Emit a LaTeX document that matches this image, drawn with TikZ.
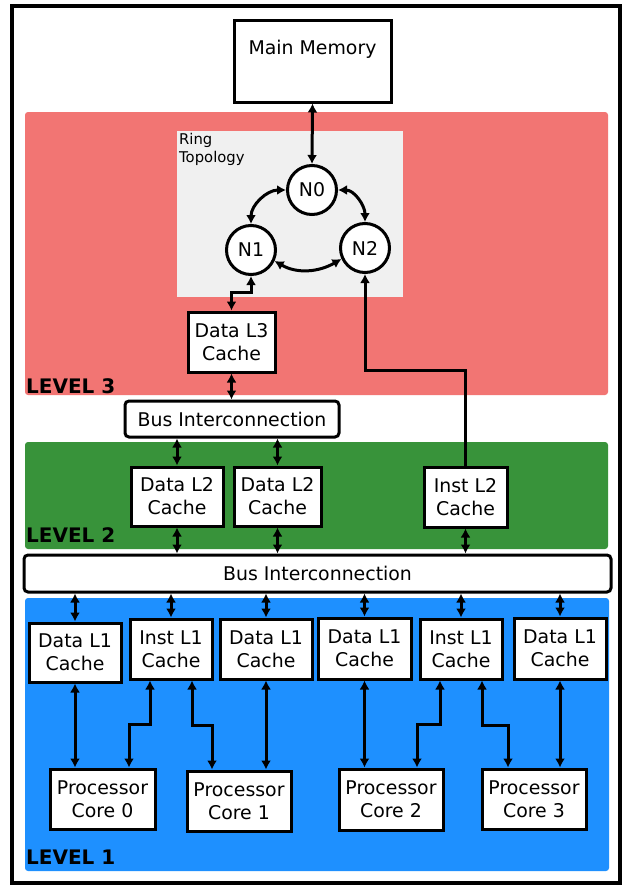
\documentclass[tikz,border=0pt]{standalone}
\usepackage{fontspec}
\setmainfont{DejaVu Sans}
\usetikzlibrary{arrows.meta,calc}
\definecolor{lvthree}{RGB}{242,117,115}
\definecolor{lvtwo}{RGB}{56,147,58}
\definecolor{lvone}{RGB}{30,144,255}
\definecolor{ringbg}{RGB}{240,240,240}
\begin{document}
\begin{tikzpicture}[x=1pt,y=-1pt,
  box/.style={draw, line width=3pt, fill=white, inner sep=0pt, align=center,
    font=\fontsize{18.9}{23}\selectfont},
  busbox/.style={box, rounded corners=4pt},
  ringnode/.style={draw, circle, line width=3pt, fill=white, inner sep=0pt,
    minimum size=49pt, font=\fontsize{18.9}{23}\selectfont},
  levellbl/.style={anchor=base west, inner sep=0pt, font=\bfseries\fontsize{20}{24}\selectfont},
  dbl/.style={{Latex[length=9pt,width=10pt]}-{Latex[length=9pt,width=10pt]}, line width=3pt},
  sgl/.style={-{Latex[length=9pt,width=10pt]}, line width=3pt}
]
\useasboundingbox (0,0) rectangle (624,886);
\fill[white] (0,0) rectangle (624,886);
\draw[line width=3.2pt] (12,6) rectangle (620,883);

% level regions
\fill[lvthree, rounded corners=3pt] (25,112) rectangle (608,395);
\fill[lvtwo, rounded corners=3pt] (25,442) rectangle (608,549);
\fill[lvone, rounded corners=3pt] (25,598) rectangle (609,871);
\fill[ringbg] (177,131) rectangle (403,297);

\node[anchor=north west, align=left, inner sep=0pt,
  font=\fontsize{14.8}{18}\selectfont] (ringlbl) at (179,133) {Ring\\Topology};

\node[levellbl] (lv3) at (26,393) {LEVEL 3};
\node[levellbl] (lv2) at (26,542) {LEVEL 2};
\node[levellbl] (lv1) at (26,864) {LEVEL 1};

% main memory
\node[box, minimum width=157pt, minimum height=82pt, text height=14pt, text depth=28pt] (mm) at (312.5,61) {Main Memory};

% ring nodes
\node[ringnode] (N0) at (312,190) {N0};
\node[ringnode] (N1) at (251,250) {N1};
\node[ringnode] (N2) at (365,248) {N2};

% level 3
\node[box, minimum width=87pt, minimum height=60pt] (L3) at (231.5,342) {Data L3\\Cache};
\node[busbox, minimum width=214pt, minimum height=36pt] (bus3) at (232,419) {Bus Interconnection};

% level 2
\node[box, minimum width=92pt, minimum height=59pt] (L2a) at (177,496.5) {Data L2\\Cache};
\node[box, minimum width=87pt, minimum height=59pt] (L2b) at (277.5,496.5) {Data L2\\Cache};
\node[box, minimum width=83pt, minimum height=60pt] (L2i) at (465.5,497) {Inst L2\\Cache};
\node[busbox, minimum width=587pt, minimum height=37pt] (bus2) at (317.5,573.5) {Bus Interconnection};

% level 1 caches
\node[box, minimum width=92pt, minimum height=59pt] (d1) at (75,652.5) {Data L1\\Cache};
\node[box, minimum width=82pt, minimum height=60pt] (i1) at (171,649) {Inst L1\\Cache};
\node[box, minimum width=92pt, minimum height=60pt] (d2) at (266,649) {Data L1\\Cache};
\node[box, minimum width=93pt, minimum height=61pt] (d3) at (364.5,648.5) {Data L1\\Cache};
\node[box, minimum width=82pt, minimum height=60pt] (i2) at (461,649) {Inst L1\\Cache};
\node[box, minimum width=92pt, minimum height=61pt] (d4) at (560,648.5) {Data L1\\Cache};

% cores
\node[box, minimum width=105pt, minimum height=60pt] (c0) at (102.5,799) {Processor\\Core 0};
\node[box, minimum width=104pt, minimum height=60pt] (c1) at (239,801) {Processor\\Core 1};
\node[box, minimum width=104pt, minimum height=61pt] (c2) at (391,799.5) {Processor\\Core 2};
\node[box, minimum width=104pt, minimum height=60pt] (c3) at (534,799) {Processor\\Core 3};

% connectors: top
\draw[dbl] (mm.south) -- (N0.north);
\draw[dbl] (N0.west) to[out=180,in=90] (N1.north);
\draw[dbl] (N0.east) to[out=0,in=90] (N2.north);
\draw[dbl] (N1.-25) to[out=-30,in=-150] (N2.205);
\draw[dbl] (N1.south) -- (N1.south |- 0,292) -| (L3.north);
\draw[sgl] (L2i.north) -- (L2i.north |- 0,370) -| (N2.south);

\draw[dbl] (L3.south) -- (L3.south |- bus3.north);
\draw[dbl] (L2a.north |- bus3.south) -- (L2a.north);
\draw[dbl] (L2b.north |- bus3.south) -- (L2b.north);

\draw[dbl] (L2a.south) -- (L2a.south |- bus2.north);
\draw[dbl] (L2b.south) -- (L2b.south |- bus2.north);
\draw[dbl] (L2i.south) -- (L2i.south |- bus2.north);

\foreach \n in {d1,i1,d2,d3,i2,d4}
  \draw[dbl] (\n.north |- bus2.south) -- (\n.north);

% L1 to cores
\draw[dbl] (d1.south) -- (d1.south |- c0.north);
\draw[dbl] (i1.south -| 150,0) -- (150,724) -| (c0.north -| 129,0);
\draw[dbl] (i1.south -| 192,0) -- (192,725) -| (c1.north -| 212,0);
\draw[dbl] (d2.south) -- (d2.south |- c1.north);
\draw[dbl] (d3.south) -- (d3.south |- c2.north);
\draw[dbl] (i2.south -| 440,0) -- (440,724) -| (c2.north -| 417,0);
\draw[dbl] (i2.south -| 482,0) -- (482,725) -| (c3.north -| 508,0);
\draw[dbl] (d4.south) -- (d4.south |- c3.north);
\end{tikzpicture}
\end{document}
